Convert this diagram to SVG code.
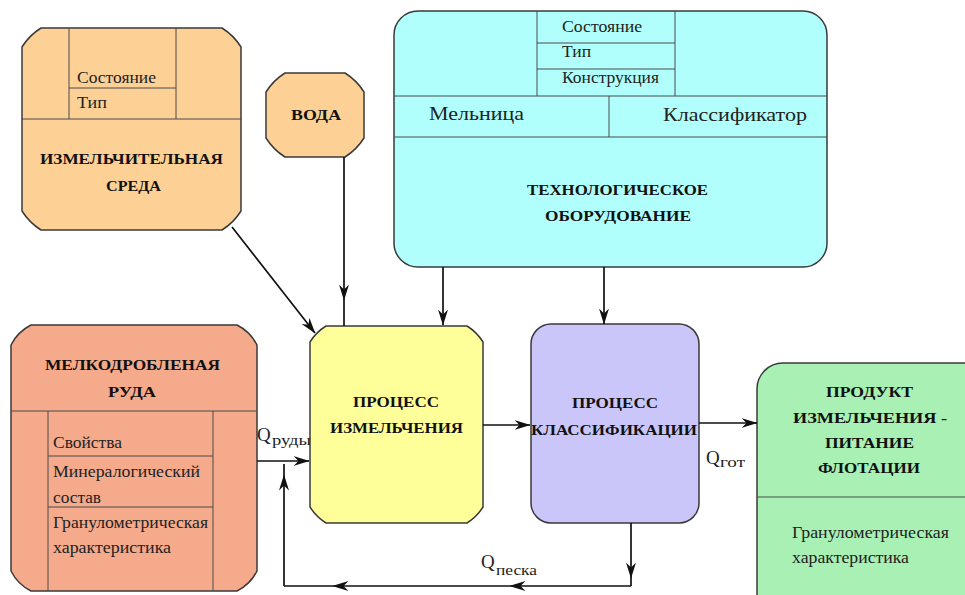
<svg xmlns="http://www.w3.org/2000/svg" width="965" height="595" viewBox="0 0 965 595">
<defs>
<marker id="ah" viewBox="0 0 16 10" markerWidth="16" markerHeight="10" refX="15.5" refY="5" orient="auto" markerUnits="userSpaceOnUse">
<path d="M0,0 L16,5 L0,10 L5,5 Z" fill="#111"/>
</marker>
</defs>
<style>
.box{stroke:#3a3a3a;stroke-width:1.5}
.in{stroke:#4a4a4a;stroke-width:1;fill:none}
.t{font-family:"Liberation Serif","Times New Roman",serif;fill:#222;font-size:16px}
.b{font-family:"Liberation Serif","Times New Roman",serif;fill:#111;font-size:15px;font-weight:bold}
.c{stroke:#111;stroke-width:1.7;fill:none}
.ca{stroke:#111;stroke-width:1.7;fill:none;marker-end:url(#ah)}
</style>
<rect width="965" height="595" fill="#fff"/>

<g id="sreda">
<path class="box" fill="#FDD096" d="M41,28 H222 A60 60 0 0 1 241,47 V211 A60 60 0 0 1 222,230 H41 A60 60 0 0 1 22,211 V47 A60 60 0 0 1 41,28 Z"/>
<path class="in" d="M69,28 V119 M176,28 V119 M22,119 H241 M69,88 H176"/>
<text class="t" x="77" y="83" textLength="79" lengthAdjust="spacingAndGlyphs">Состояние</text>
<text class="t" x="77" y="108" textLength="30" lengthAdjust="spacingAndGlyphs">Тип</text>
<text class="b" x="40" y="164" textLength="183" lengthAdjust="spacingAndGlyphs">ИЗМЕЛЬЧИТЕЛЬНАЯ</text>
<text class="b" x="106" y="191" textLength="55" lengthAdjust="spacingAndGlyphs">СРЕДА</text>
</g>

<g id="voda">
<path class="box" fill="#FDD096" d="M285,73 H345 A60 60 0 0 1 364,92 V138 A60 60 0 0 1 345,157 H285 A60 60 0 0 1 266,138 V92 A60 60 0 0 1 285,73 Z"/>
<text class="b" x="291" y="120" textLength="50" lengthAdjust="spacingAndGlyphs">ВОДА</text>
</g>

<g id="oborudovanie">
<rect class="box" fill="#B0FFFC" x="394" y="11" width="433" height="256" rx="24" ry="24"/>
<path class="in" d="M537,11 V96 M675,11 V96 M537,43 H675 M537,69 H675 M394,96 H827 M394,137 H827 M609,96 V137"/>
<text class="t" x="562" y="32" textLength="80" lengthAdjust="spacingAndGlyphs">Состояние</text>
<text class="t" x="562" y="57" textLength="29" lengthAdjust="spacingAndGlyphs">Тип</text>
<text class="t" x="562" y="83" textLength="97" lengthAdjust="spacingAndGlyphs">Конструкция</text>
<text class="t" x="429" y="120" style="font-size:19px" textLength="95" lengthAdjust="spacingAndGlyphs">Мельница</text>
<text class="t" x="663" y="121" style="font-size:19px" textLength="144" lengthAdjust="spacingAndGlyphs">Классификатор</text>
<text class="b" x="527" y="195" textLength="181" lengthAdjust="spacingAndGlyphs">ТЕХНОЛОГИЧЕСКОЕ</text>
<text class="b" x="545" y="221" textLength="146" lengthAdjust="spacingAndGlyphs">ОБОРУДОВАНИЕ</text>
</g>

<g id="ruda">
<path class="box" fill="#F5AA8C" d="M31,325 H237 A45 45 0 0 1 257,345 V571 A45 45 0 0 1 237,591 H31 A45 45 0 0 1 11,571 V345 A45 45 0 0 1 31,325 Z"/>
<path class="in" d="M11,411 H257 M48,411 V591 M213,411 V591 M48,456 H213 M48,507 H213"/>
<text class="b" x="45" y="370" textLength="175" lengthAdjust="spacingAndGlyphs">МЕЛКОДРОБЛЕНАЯ</text>
<text class="b" x="108" y="397" textLength="48" lengthAdjust="spacingAndGlyphs">РУДА</text>
<text class="t" x="53" y="448" textLength="69" lengthAdjust="spacingAndGlyphs">Свойства</text>
<text class="t" x="53" y="477" textLength="147" lengthAdjust="spacingAndGlyphs">Минералогический</text>
<text class="t" x="53" y="503" textLength="48" lengthAdjust="spacingAndGlyphs">состав</text>
<text class="t" x="53" y="528" textLength="155" lengthAdjust="spacingAndGlyphs">Гранулометрическая</text>
<text class="t" x="53" y="553" textLength="118" lengthAdjust="spacingAndGlyphs">характеристика</text>
</g>

<g id="izmelchenie">
<path class="box" fill="#FFFF99" d="M326,326 H467 A50 50 0 0 1 483,342 V507 A50 50 0 0 1 467,523 H326 A50 50 0 0 1 310,507 V342 A50 50 0 0 1 326,326 Z"/>
<text class="b" x="353" y="407" textLength="86" lengthAdjust="spacingAndGlyphs">ПРОЦЕСС</text>
<text class="b" x="330" y="433" textLength="133" lengthAdjust="spacingAndGlyphs">ИЗМЕЛЬЧЕНИЯ</text>
</g>

<g id="klassifikaciya">
<rect class="box" fill="#CBC6FA" x="531" y="324" width="168" height="199" rx="20" ry="20"/>
<text class="b" x="572" y="408" textLength="86" lengthAdjust="spacingAndGlyphs">ПРОЦЕСС</text>
<text class="b" x="531" y="435" textLength="166" lengthAdjust="spacingAndGlyphs">КЛАССИФИКАЦИИ</text>
</g>

<g id="produkt">
<rect class="box" fill="#A8F0B4" x="757" y="363" width="240" height="260" rx="26" ry="26"/>
<path class="in" d="M757,497 H965"/>
<text class="b" x="826" y="397" textLength="87" lengthAdjust="spacingAndGlyphs">ПРОДУКТ</text>
<text class="b" x="793" y="423" textLength="154" lengthAdjust="spacingAndGlyphs">ИЗМЕЛЬЧЕНИЯ -</text>
<text class="b" x="825" y="448" textLength="89" lengthAdjust="spacingAndGlyphs">ПИТАНИЕ</text>
<text class="b" x="818" y="473" textLength="102" lengthAdjust="spacingAndGlyphs">ФЛОТАЦИИ</text>
<text class="t" x="792" y="538" textLength="157" lengthAdjust="spacingAndGlyphs">Гранулометрическая</text>
<text class="t" x="792" y="563" textLength="117" lengthAdjust="spacingAndGlyphs">характеристика</text>
</g>

<g id="connectors">
<path class="ca" d="M232,227 L315,333"/>
<path class="ca" d="M344,157 V300"/>
<path class="c" d="M344,300 V326"/>
<path class="ca" d="M443,267 V325"/>
<path class="ca" d="M604,267 V324"/>
<path class="ca" d="M257,461 H309"/>
<path class="ca" d="M483,425 H530"/>
<path class="ca" d="M699,423 H757"/>
<path class="ca" d="M631,523 V578"/>
<path class="c" d="M631,578 V586"/>
<path class="ca" d="M631,586 H510"/>
<path class="ca" d="M510,586 H333"/>
<path class="c" d="M333,586 H284"/>
<path class="ca" d="M284,586 V475"/>
<path class="c" d="M284,475 V464"/>
<text class="t" x="257" y="441" style="font-size:19px">Q</text>
<text class="t" x="272" y="445" style="font-size:14px" textLength="39" lengthAdjust="spacingAndGlyphs">руды</text>
<text class="t" x="706" y="464" style="font-size:19px">Q</text>
<text class="t" x="720" y="467" style="font-size:14px" textLength="25" lengthAdjust="spacingAndGlyphs">гот</text>
<text class="t" x="481" y="568" style="font-size:19px">Q</text>
<text class="t" x="496" y="575" style="font-size:14px" textLength="41" lengthAdjust="spacingAndGlyphs">песка</text>
</g>
</svg>
